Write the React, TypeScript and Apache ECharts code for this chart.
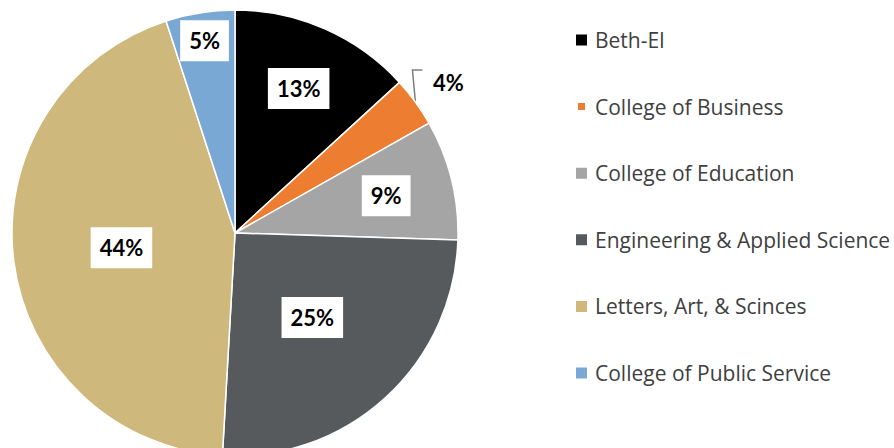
import React, { useEffect, useRef } from "react";
import * as echarts from "echarts";

const categories = [
  "Beth-El",
  "College of Business",
  "College of Education",
  "Engineering & Applied Science",
  "Letters, Art, & Scinces",
  "College of Public Service",
];
const values = [13.2, 3.6, 8.7, 25.4, 44.1, 5.0];
const colors = ["#000000", "#ED7D31", "#A5A5A5", "#565A5D", "#CFB87C", "#78A8D3"];
// radial factor of each inside label relative to the default (r/2) placement
const labelRadial = [1.38, 1, 1.36, 1.0, 1.0, 1.7];

const CX = 235;
const CY = 233;
const R = 223;
const LABEL_FONT = "Lato, 'Open Sans', sans-serif";
const LEGEND_FONT = "'Open Sans', 'Noto Sans', sans-serif";

export default function App() {
  const ref = useRef<HTMLDivElement>(null);
  useEffect(() => {
    if (!ref.current) return;
    const chart = echarts.init(ref.current, undefined, { renderer: "svg" });
    const total = values.reduce((a, b) => a + b, 0);
    const midAngles: number[] = [];
    let acc = 0;
    values.forEach((v) => {
      midAngles.push(((acc + v / 2) / total) * Math.PI * 2);
      acc += v;
    });
    chart.setOption({
      animation: false,
      legend: {
        orient: "vertical",
        left: 574,
        top: 29.5,
        padding: 0,
        itemWidth: 13,
        itemHeight: 13,
        itemGap: 45.6,
        icon: "rect",
        data: categories.map((name, i) =>
          i === 1 ? { name, icon: "path://M0 0M13 13M2 2h9v9h-9z" } : { name }
        ),
        textStyle: {
          color: "#404040",
          fontSize: 21,
          lineHeight: 21,
          fontFamily: LEGEND_FONT,
          padding: [0, 0, 0, 2],
        },
      },
      series: [
        {
          type: "pie",
          center: [CX, CY],
          radius: R,
          startAngle: 90,
          clockwise: true,
          avoidLabelOverlap: false,
          itemStyle: { borderColor: "#ffffff", borderWidth: 1.5 },
          label: {
            position: "inside",
            formatter: (p: any) => Math.round(p.percent) + "%",
            color: "#000000",
            fontWeight: "bold",
            fontSize: 22,
            fontFamily: LABEL_FONT,
            backgroundColor: "#ffffff",
            padding: [10, 9, 9, 9],
          },
          labelLine: { show: false },
          labelLayout: (params: any) => {
            const i = params.dataIndex;
            const lr = params.labelRect;
            if (i === 1) {
              const a = midAngles[i];
              const ex = CX + R * Math.sin(a);
              const ey = CY - R * Math.cos(a);
              const p1 = [ex - 3, ey - 32];
              const p2 = [p1[0] + 10, p1[1]];
              return {
                x: p2[0] + 26,
                y: p2[1] + 13,
                align: "center",
                verticalAlign: "middle",
                labelLinePoints: [[ex, ey], p1, p2],
              };
            }
            const lx = lr.x + lr.width / 2;
            const ly = lr.y + lr.height / 2;
            const f = labelRadial[i];
            return {
              x: CX + (lx - CX) * f,
              y: CY + (ly - CY) * f,
              align: "center",
              verticalAlign: "middle",
            };
          },
          data: categories.map((name, i) => {
            const item: any = { name, value: values[i], itemStyle: { color: colors[i] } };
            if (i === 1) {
              item.label = {
                position: "outside",
                backgroundColor: "transparent",
                padding: 0,
              };
              item.labelLine = {
                show: true,
                length: 10,
                length2: 10,
                lineStyle: { color: "#808080", width: 1.5 },
              };
            }
            return item;
          }),
        },
      ],
    });
    return () => chart.dispose();
  }, []);
  return (
    <div
      ref={ref}
      style={{ position: "fixed", left: 0, top: 0, width: 894, height: 448, background: "#ffffff" }}
    />
  );
}
